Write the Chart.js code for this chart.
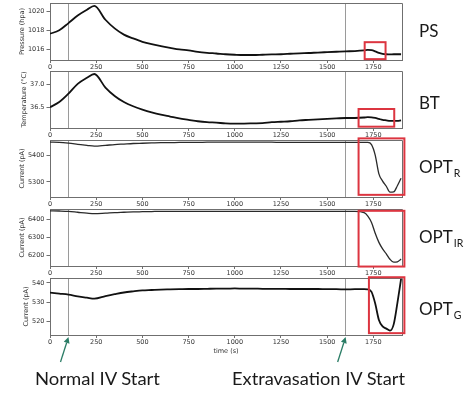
<!DOCTYPE html>
<html>
<head>
<meta charset="utf-8">
<script src="https://cdn.jsdelivr.net/npm/chart.js@4.4.1/dist/chart.umd.min.js"></script>
<style>
  html, body { margin: 0; padding: 0; background: #fff; }
  #wrap { position: relative; width: 470px; height: 394px; overflow: hidden; }
  #wrap canvas { position: absolute; left: 0; }
  .lab { position: absolute; font-family: Lato, "Open Sans", sans-serif; color: #1a1a1a; white-space: nowrap; line-height: 1; }
  .side { font-size: 17px; left: 419px; }
  .side sub { font-size: 10.5px; vertical-align: -4px; line-height: 0; margin-left: 1px; }
  .bottom { font-size: 18px; transform-origin: left top; }
</style>
</head>
<body>
<div id="wrap">
  <canvas id="c0"></canvas>
  <canvas id="c1"></canvas>
  <canvas id="c2"></canvas>
  <canvas id="c3"></canvas>
  <canvas id="c4"></canvas>

  <div class="lab side" style="top:22px">PS</div>
  <div class="lab side" style="top:94px">BT</div>
  <div class="lab side" style="top:158px">OPT<sub>R</sub></div>
  <div class="lab side" style="top:228px">OPT<sub>IR</sub></div>
  <div class="lab side" style="top:300px">OPT<sub>G</sub></div>

  <div class="lab bottom fit" data-w="125" style="left:35px; top:369px">Normal IV Start</div>
  <div class="lab bottom fit" data-w="173" style="left:232px; top:369px">Extravasation IV Start</div>
</div>

<script>
// ── Data ─────────────────────────────────────────────────────────
const times = [0, 50, 100, 150, 200, 240, 300, 350, 400, 450, 500, 550, 600, 650, 700, 750,
               800, 850, 900, 950, 1000, 1050, 1100, 1150, 1200, 1250, 1300, 1350, 1400, 1450,
               1500, 1550, 1600, 1650, 1700, 1720, 1740, 1760, 1780, 1800, 1820, 1840, 1860, 1880, 1900];

const pressure = [1017.64, 1018.0, 1018.75, 1019.55, 1020.15, 1020.55, 1019.1, 1018.2, 1017.55, 1017.15,
                  1016.8, 1016.55, 1016.35, 1016.17, 1016.0, 1015.9, 1015.75, 1015.65, 1015.58, 1015.5,
                  1015.45, 1015.42, 1015.42, 1015.45, 1015.48, 1015.5, 1015.55, 1015.6, 1015.63, 1015.68,
                  1015.72, 1015.76, 1015.8, 1015.83, 1015.9, 1015.95, 1015.92, 1015.8, 1015.65, 1015.55,
                  1015.5, 1015.48, 1015.5, 1015.5, 1015.5];

const temperature = [36.51, 36.62, 36.8, 37.01, 37.14, 37.22, 36.93, 36.75, 36.62, 36.53,
                     36.46, 36.4, 36.35, 36.31, 36.27, 36.24, 36.21, 36.19, 36.18, 36.165,
                     36.16, 36.16, 36.165, 36.17, 36.19, 36.2, 36.21, 36.23, 36.24, 36.25,
                     36.26, 36.27, 36.28, 36.28, 36.29, 36.3, 36.295, 36.28, 36.26, 36.24,
                     36.23, 36.22, 36.22, 36.22, 36.23];

const optRed = [5448, 5447, 5444, 5440, 5436, 5433, 5436, 5439, 5441, 5443,
                5444, 5445, 5446, 5446, 5447, 5447, 5447, 5448, 5448, 5448,
                5448, 5448, 5448, 5448, 5448, 5447, 5447, 5447, 5447, 5447,
                5447, 5447, 5447, 5447, 5447, 5447, 5439, 5400, 5330, 5303,
                5284, 5262, 5263, 5286, 5314];

const optIr = [6447, 6446, 6444, 6439, 6434, 6431, 6434, 6437, 6439, 6441,
               6442, 6443, 6444, 6444, 6444, 6444, 6444, 6444, 6444, 6444,
               6444, 6444, 6444, 6444, 6444, 6444, 6444, 6444, 6444, 6444,
               6444, 6444, 6444, 6444, 6437, 6418, 6383, 6323, 6273, 6237,
               6210, 6180, 6164, 6166, 6181];

const optGreen = [534.9, 534.4, 533.9, 533.0, 532.3, 531.8, 533.1, 534.1, 535.0, 535.6,
                  536.1, 536.3, 536.5, 536.6, 536.7, 536.8, 536.8, 536.9, 537.0, 537.0,
                  537.1, 537.0, 537.0, 536.9, 536.9, 536.9, 536.8, 536.8, 536.8, 536.8,
                  536.7, 536.7, 536.6, 536.7, 536.7, 536.6, 535.3, 529.3, 520.8, 517.5,
                  516.3, 515.3, 518.5, 529.5, 542.0];

const timeTicks  = [0, 250, 500, 750, 1000, 1250, 1500, 1750];
const psTicks    = [1016, 1018, 1020];
const btTicks    = [36.5, 37.0];
const redTicks   = [5300, 5400];
const irTicks    = [6200, 6300, 6400];
const greenTicks = [520, 530, 540];

// normal IV start, extravasation IV start (s)
const ivStarts = [100, 1600];

// highlighted windows: [t start, t end, value low, value high]
const psBox    = [1703, 1816, 1014.99, 1016.76];
const btBox    = [1670, 1863, 36.094, 36.472];
const redBox   = [1670, 1918, 5252, 5462];
const irBox    = [1670, 1918, 6140, 6447];
const greenBox = [1726, 1918, 513.95, 542.9];

// ── Layout / style ───────────────────────────────────────────────
const PLOT_LEFT  = 50;
const PLOT_RIGHT = 402;
const PLOT_H     = 57;
const PAD_TOP    = 8;
const T_MAX      = 1905;
const AXIS   = '#6f6f6f';
const TXT    = '#333';
const RED    = '#dc3540';
const ARROW  = '#2b7d66';
const TICK_FONT = { family: 'DejaVu Sans', size: 6.5 };

const panels = [
  { id: 'c0', values: pressure,    ticks: psTicks,    title: 'Pressure (hpa)',   min: 1014.9, max: 1020.85, box: psBox,    top: 3,   padLeft: 18.7, lw: 1.8, color: '#111', digits: 0 },
  { id: 'c1', values: temperature, ticks: btTicks,    title: 'Temperature (°C)', min: 36.066, max: 37.284,  box: btBox,    top: 71,  padLeft: 20,   lw: 1.8, color: '#111', digits: 1 },
  { id: 'c2', values: optRed,      ticks: redTicks,   title: 'Current (pA)',     min: 5244,   max: 5456,    box: redBox,   top: 140, padLeft: 18.7, lw: 1.3, color: '#2a2a2a', digits: 0 },
  { id: 'c3', values: optIr,       ticks: irTicks,    title: 'Current (pA)',     min: 6143,   max: 6457,    box: irBox,    top: 209, padLeft: 18.7, lw: 1.3, color: '#2a2a2a', digits: 0 },
  { id: 'c4', values: optGreen,    ticks: greenTicks, title: 'Current (pA)',     min: 513.0,  max: 542.5,   box: greenBox, top: 278, padLeft: 22.7, lw: 1.8, color: '#111', digits: 0 }
];

// ── Drawing helpers ──────────────────────────────────────────────
function crisp(v) { return Math.round(v - 0.5) + 0.5; }

function drawMarkers(chart) {
    const { ctx, chartArea: a, scales: { x } } = chart;
    ctx.save();
    ctx.strokeStyle = '#9a9a9a';
    ctx.lineWidth = 1;
    ivStarts.forEach(t => {
        const px = crisp(x.getPixelForValue(t));
        ctx.beginPath();
        ctx.moveTo(px, a.top);
        ctx.lineTo(px, a.bottom);
        ctx.stroke();
    });
    ctx.restore();
}

function drawFrame(chart, p, last) {
    const { ctx, chartArea: a, scales: { x, y } } = chart;
    ctx.save();

    // top and right spines
    ctx.strokeStyle = AXIS;
    ctx.lineWidth = 1;
    ctx.beginPath();
    ctx.moveTo(crisp(a.left), crisp(a.top));
    ctx.lineTo(crisp(a.right), crisp(a.top));
    ctx.lineTo(crisp(a.right), crisp(a.bottom));
    ctx.stroke();

    // red highlight box
    const [t0, t1, v0, v1] = p.box;
    const x0 = x.getPixelForValue(t0), x1 = x.getPixelForValue(t1);
    const y0 = y.getPixelForValue(v1), y1 = y.getPixelForValue(v0);
    ctx.strokeStyle = RED;
    ctx.lineWidth = 2;
    ctx.strokeRect(x0, y0, x1 - x0, y1 - y0);

    // arrows pointing at the IV start markers
    if (last) {
        ctx.strokeStyle = ARROW;
        ctx.fillStyle = ARROW;
        ctx.lineWidth = 1.3;
        ivStarts.forEach(t => {
            const tipX = x.getPixelForValue(t), tipY = a.bottom + 2;
            const tailX = tipX - 8, tailY = tipY + 25;
            const ang = Math.atan2(tipY - tailY, tipX - tailX);
            const hl = 6, hw = 3;
            const bx = tipX - hl * Math.cos(ang), by = tipY - hl * Math.sin(ang);
            ctx.beginPath();
            ctx.moveTo(tailX, tailY);
            ctx.lineTo(bx, by);
            ctx.stroke();
            ctx.beginPath();
            ctx.moveTo(tipX, tipY);
            ctx.lineTo(bx + hw * Math.sin(ang), by - hw * Math.cos(ang));
            ctx.lineTo(bx - hw * Math.sin(ang), by + hw * Math.cos(ang));
            ctx.closePath();
            ctx.fill();
        });
    }
    ctx.restore();
}

// ── Build one panel ──────────────────────────────────────────────
function makePanel(p, i) {
    const last = i === panels.length - 1;
    const canvas = document.getElementById(p.id);
    const xHeight = last ? 20 : 12;
    const padBottom = last ? 39 : 0;
    canvas.width = 470;
    canvas.height = PAD_TOP + PLOT_H + xHeight + padBottom;
    canvas.style.top = (p.top - PAD_TOP) + 'px';

    return new Chart(canvas, {
        type: 'line',
        data: {
            datasets: [{
                data: times.map((t, k) => ({ x: t, y: p.values[k] })),
                borderColor: p.color,
                borderWidth: p.lw,
                pointRadius: 0,
                cubicInterpolationMode: 'monotone',
                fill: false
            }]
        },
        options: {
            responsive: false,
            animation: false,
            devicePixelRatio: 1,
            layout: { padding: { left: p.padLeft, right: 470 - PLOT_RIGHT, top: PAD_TOP, bottom: padBottom } },
            plugins: { legend: { display: false }, tooltip: { enabled: false } },
            scales: {
                x: {
                    type: 'linear',
                    min: 0,
                    max: T_MAX,
                    afterBuildTicks: s => { s.ticks = timeTicks.map(v => ({ value: v })); },
                    afterFit: s => { s.height = xHeight; },
                    grid: { drawOnChartArea: false, tickLength: 3, color: AXIS },
                    border: { color: AXIS },
                    ticks: {
                        font: TICK_FONT, color: TXT, padding: 0, maxRotation: 0, autoSkip: false,
                        callback: v => String(v)
                    },
                    title: { display: last, text: 'time (s)', font: TICK_FONT, color: TXT, padding: 0 }
                },
                y: {
                    min: p.min,
                    max: p.max,
                    afterBuildTicks: s => { s.ticks = p.ticks.map(v => ({ value: v })); },
                    afterFit: s => { s.width = PLOT_LEFT - p.padLeft; },
                    grid: { drawOnChartArea: false, tickLength: 3.5, color: AXIS },
                    border: { color: AXIS },
                    ticks: {
                        font: TICK_FONT, color: TXT, padding: 2, autoSkip: false,
                        callback: v => v.toFixed(p.digits)
                    },
                    title: { display: true, text: p.title, font: TICK_FONT, color: TXT, padding: 0 }
                }
            }
        },
        plugins: [{
            id: 'frame' + i,
            beforeDatasetsDraw: chart => drawMarkers(chart),
            afterDraw: chart => drawFrame(chart, p, last)
        }]
    });
}

panels.forEach(makePanel);

// squeeze the big captions to the reference widths
document.querySelectorAll('.fit').forEach(el => {
    const w = el.getBoundingClientRect().width;
    el.style.transform = `scaleX(${(+el.dataset.w / w).toFixed(3)})`;
});
</script>
</body>
</html>
